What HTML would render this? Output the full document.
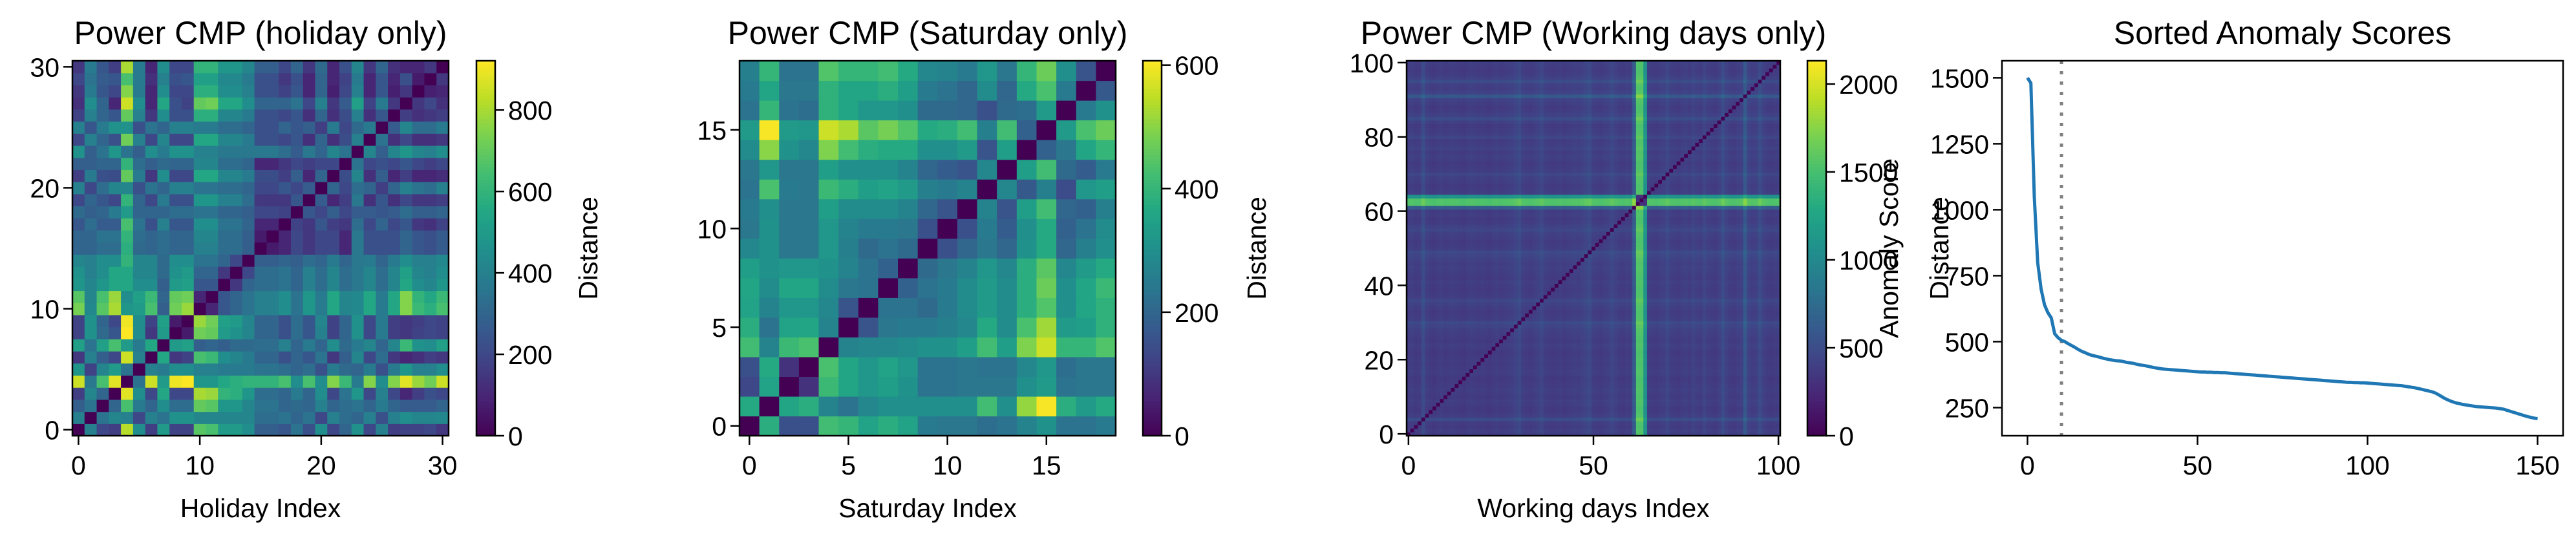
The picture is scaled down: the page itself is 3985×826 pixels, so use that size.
<!DOCTYPE html>
<html><head><meta charset="utf-8">
<style>
html,body{margin:0;padding:0;background:#fff;}
svg{display:block;font-family:"Liberation Sans","DejaVu Sans",sans-serif;}
.t{font-size:41px;fill:#000;}
.ti{font-size:50px;fill:#000;}
</style></head>
<body>
<svg id="fig" width="3985" height="826" viewBox="0 0 3985 826" xmlns="http://www.w3.org/2000/svg"></svg>
<script>
// ---------- Holiday data (rows 0..30, columns 0..30) ----------
const holidayRows = [
[0,400,200,170,820,450,170,500,180,180,680,650,500,500,450,280,280,250,350,230,450,200,300,470,200,400,170,180,180,200,150],
[400,0,350,420,400,200,400,350,470,470,420,420,420,420,420,330,330,350,300,350,200,400,330,300,400,230,400,450,420,420,430],
[280,350,0,300,650,380,300,450,330,330,700,680,480,480,420,350,350,300,320,300,400,300,330,350,300,380,300,270,270,270,300],
[170,420,300,0,880,450,200,550,200,200,800,780,600,580,480,330,330,300,380,300,450,200,350,480,200,400,200,100,170,230,200],
[850,370,650,880,0,350,850,500,900,920,480,480,550,580,600,600,600,650,450,650,450,750,620,380,750,450,750,880,780,720,850],
[480,180,420,500,350,0,400,380,450,450,400,400,380,380,380,350,350,330,300,330,230,380,320,300,380,230,380,480,400,400,450],
[150,400,280,200,850,400,0,550,150,180,650,620,450,420,380,300,300,230,300,250,350,150,280,420,200,330,150,100,130,170,150],
[520,350,520,650,500,380,550,0,500,520,280,300,280,320,320,330,330,400,300,380,300,450,320,380,420,300,420,620,470,450,520],
[180,470,320,250,920,450,150,500,0,70,720,700,500,470,420,300,300,230,330,250,400,180,300,470,200,380,170,150,180,200,180],
[180,470,300,200,900,450,180,520,70,0,780,720,520,500,420,300,300,230,330,250,420,180,300,470,200,380,170,150,170,200,180],
[730,430,680,800,480,500,650,280,720,780,0,100,250,300,350,400,400,450,350,480,380,550,420,430,550,380,550,750,620,580,650],
[680,420,650,780,450,520,620,300,700,720,100,0,250,300,350,400,400,450,350,480,380,550,420,430,550,380,550,750,600,550,620],
[480,420,480,550,550,450,450,280,500,520,250,250,0,150,300,330,330,350,300,400,330,420,330,370,420,330,420,550,450,420,480],
[470,400,450,550,550,420,420,320,470,500,300,300,150,0,200,330,330,350,300,400,330,420,330,370,420,330,420,520,420,400,450],
[420,400,450,450,600,420,420,320,450,450,350,350,300,200,0,280,280,300,280,330,300,380,300,370,380,300,380,450,400,400,430],
[300,300,330,330,580,320,300,330,300,300,400,400,330,330,280,0,70,100,200,150,200,200,100,370,230,230,230,300,250,230,270],
[300,300,350,350,600,330,300,330,300,300,420,420,330,330,280,70,0,100,200,150,200,200,100,370,230,230,230,300,250,230,270],
[250,330,270,270,650,350,230,400,250,250,450,450,350,350,300,100,100,0,180,150,250,170,150,330,200,300,200,250,150,130,180],
[320,280,300,380,500,300,300,300,330,330,350,350,300,300,280,200,200,180,0,250,200,280,200,270,270,250,270,330,280,280,300],
[200,300,250,200,600,300,200,380,230,230,480,480,400,400,330,150,150,150,250,0,270,100,170,370,130,250,130,200,150,150,170],
[400,200,330,420,420,230,350,300,400,400,350,350,330,330,300,200,200,250,200,270,0,300,200,330,300,170,300,400,350,330,400],
[170,380,230,220,700,380,150,450,200,200,550,550,420,420,380,220,220,170,280,100,300,0,220,420,130,280,100,170,100,100,120],
[280,280,300,300,600,330,280,320,300,300,420,420,330,330,300,100,100,150,200,170,200,200,0,350,200,230,200,250,200,170,200],
[470,280,350,480,350,280,450,380,470,470,400,400,370,370,370,370,370,330,270,370,300,420,350,0,420,280,420,480,420,400,450],
[200,400,300,230,720,400,200,420,200,200,550,550,420,420,380,230,230,200,250,130,300,130,220,400,0,350,130,200,130,130,150],
[400,250,380,470,470,230,350,300,400,400,380,380,330,330,300,230,230,300,250,280,170,380,200,320,380,0,270,420,330,330,380],
[180,400,300,250,700,400,150,450,230,230,580,580,420,420,380,230,230,200,250,130,300,130,220,400,130,250,0,170,130,150,170],
[130,450,300,100,850,450,100,550,230,180,700,720,550,550,450,300,300,300,350,200,400,150,270,520,180,380,150,0,150,200,130],
[150,380,250,200,750,380,100,450,200,200,580,580,450,450,400,230,230,180,250,100,300,80,200,400,100,250,80,150,0,80,100],
[200,350,270,250,650,380,130,400,230,250,520,520,430,430,380,230,230,150,230,100,300,100,180,380,100,250,100,230,70,0,150],
[150,380,250,170,800,380,100,450,200,200,600,600,480,480,420,280,280,200,300,150,320,100,230,420,150,300,130,100,100,150,0]
];
const holidayTicks = [0,10,20,30];
const holidayCbTicks = [0,200,400,600,800];

// ---------- Saturday data (rows 0..18) ----------
const saturdayRows = [
[0,380,150,150,420,400,350,380,350,250,240,240,220,230,270,310,230,230,250],
[370,0,360,380,270,230,280,300,300,300,300,300,420,300,510,600,380,330,370],
[130,350,0,90,410,360,320,340,310,230,230,240,240,240,300,330,230,240,240],
[150,370,90,0,430,360,320,350,320,230,230,240,230,230,280,320,220,240,240],
[420,270,410,430,0,270,280,280,290,310,310,340,420,340,490,560,400,400,440],
[380,230,350,360,270,0,160,240,250,250,260,280,370,290,430,520,330,340,390],
[350,270,320,320,280,160,0,230,230,210,250,290,330,290,380,440,300,360,390],
[360,290,360,360,290,240,230,0,190,230,250,290,330,290,380,470,300,360,410],
[340,310,320,320,310,270,230,190,0,210,240,270,320,280,380,450,280,330,370],
[280,310,240,240,320,260,210,230,210,0,150,200,240,200,310,370,200,260,300],
[240,310,240,240,320,270,250,250,240,150,0,150,250,180,300,370,190,230,290],
[250,300,240,240,340,290,290,290,270,200,160,0,270,160,340,420,200,190,260],
[230,430,250,240,410,380,340,350,330,260,250,270,0,280,170,260,140,320,340],
[240,320,240,240,340,300,300,300,270,200,180,160,280,0,340,420,210,180,250],
[290,500,310,280,490,420,380,370,370,300,300,330,160,340,0,190,240,360,400],
[330,600,330,320,560,530,450,480,440,370,380,420,260,420,190,0,330,430,470],
[230,400,230,220,390,360,320,320,300,210,210,200,150,210,220,330,0,250,310],
[250,360,240,240,390,360,360,380,340,250,230,200,290,200,370,430,250,0,170],
[260,400,230,230,440,400,400,420,370,280,270,250,320,240,400,470,300,160,0]
];
const saturdayTicks = [0,5,10,15];
const saturdayCbTicks = [0,200,400,600];

// ---------- Working days: per-index level profile (0..100) ----------
const workLevels = [
190,200,180,190,300,200,180,170,190,200, 180,190,200,190,180,170,190,200,190,180,
190,180,170,190,200,180,190,200,210,240, 280,200,190,180,200,220,260,200,190,180,
190,200,180,190,200,210,200,220,250,280, 200,190,180,200,210,260,220,190,180,200,
190,420,1350,1350,900,200,190,180,200,210, 260,200,190,180,200,210,190,230,200,190,
250,200,190,180,210,300,220,190,180,200, 220,400,230,200,210,300,220,190,180,190,
200
];
const workTicksX = [0,50,100];
const workTicksY = [0,20,40,60,80,100];
const workCbTicks = [0,500,1000,1500,2000];

// ---------- Sorted anomaly scores ----------
const scores = [
1500,1480,1050,800,700,640,610,590,530,515,505,
500,492,485,478,470,463,458,452,448,445,
442,438,435,432,430,428,427,425,422,420,
418,415,412,410,408,405,402,400,398,396,
395,394,393,392,391,390,389,388,387,386,
385,385,384,384,383,383,382,382,381,380,
379,378,377,376,375,374,373,372,371,370,
369,368,367,366,365,364,363,362,361,360,
359,358,357,356,355,354,353,352,351,350,
349,348,347,346,346,345,345,344,344,343,
342,341,340,339,338,337,336,335,334,333,
331,329,327,325,322,319,316,313,310,305,
298,290,283,277,272,268,265,262,260,258,
256,254,253,252,251,250,249,248,246,244,
240,236,232,228,224,220,216,213,210,208
];
const lineTicksX = [0,50,100,150];
const lineTicksY = [250,500,750,1000,1250,1500];
const thresholdIndex = 10;

// ---------- helpers ----------
const NS = "http://www.w3.org/2000/svg";
const svg = document.getElementById('fig');
function mk(tag, attrs, parent){
  const e = document.createElementNS(NS, tag);
  for (const k in attrs) e.setAttribute(k, attrs[k]);
  (parent||svg).appendChild(e);
  return e;
}
const VIR = [[68,1,84],[72,35,116],[64,67,135],[52,94,141],[41,120,142],[32,144,140],[34,167,132],[68,190,112],[121,209,81],[189,222,38],[253,231,37]];
function viridis(t){
  t = Math.max(0, Math.min(1, t));
  const p = t*(VIR.length-1), i = Math.min(Math.floor(p), VIR.length-2), f = p-i;
  const a = VIR[i], b = VIR[i+1];
  return 'rgb('+[0,1,2].map(k=>Math.round(a[k]+(b[k]-a[k])*f)).join(',')+')';
}
function text(x,y,s,cls,anchor,name,rot){
  const e = mk('text',{x:x,y:y,class:cls,'text-anchor':anchor||'middle'});
  if (rot) e.setAttribute('transform','rotate(-90 '+x+' '+y+')');
  e.textContent = s;
  
  
  return e;
}

function heatmap(cfg){
  const g = mk('g',{});
  
  
  const n = cfg.n;
  const sx = v => cfg.x0 + (v+0.5)/n*(cfg.x1-cfg.x0);
  const sy = v => cfg.y1 - (v+0.5)/n*(cfg.y1-cfg.y0);
  const cw = (cfg.x1-cfg.x0)/n, ch = (cfg.y1-cfg.y0)/n;
  for (let r=0;r<n;r++) for (let c=0;c<n;c++){
    const v = cfg.value(r,c);
    const rect = mk('rect',{x:(sx(c)-cw/2).toFixed(2),y:(sy(r)-ch/2).toFixed(2),width:(cw+0.6).toFixed(2),height:(ch+0.6).toFixed(2),fill:viridis(v/cfg.vmax)}, g);
    
    
  }
  mk('rect',{x:cfg.x0,y:cfg.y0,width:cfg.x1-cfg.x0,height:cfg.y1-cfg.y0,fill:'none',stroke:'#000','stroke-width':2.5});
  cfg.ticksX.forEach(t=>{
    const x = sx(t);
    mk('line',{x1:x,y1:cfg.y1,x2:x,y2:cfg.y1+14,stroke:'#000','stroke-width':2.5});
    text(x,cfg.y1+60,String(t),'t','middle','x-tick-label');
  });
  cfg.ticksY.forEach(t=>{
    const y = sy(t);
    mk('line',{x1:cfg.x0-14,y1:y,x2:cfg.x0,y2:y,stroke:'#000','stroke-width':2.5});
    text(cfg.x0-20,y+15,String(t),'t','end','y-tick-label');
  });
  text((cfg.x0+cfg.x1)/2,68,cfg.title,'ti','middle','chart-title');
  text((cfg.x0+cfg.x1)/2,800,cfg.xlabel,'t','middle','x-axis-title');
  // colorbar
  const cb = mk('g',{});
  
  
  const steps = 120, H = cfg.y1-cfg.y0;
  for (let i=0;i<steps;i++){
    const s = mk('rect',{x:cfg.cb0,y:(cfg.y1-(i+1)*H/steps).toFixed(2),width:cfg.cb1-cfg.cb0,height:(H/steps+0.6).toFixed(2),fill:viridis((i+0.5)/steps)}, cb);
    
    
  }
  mk('rect',{x:cfg.cb0,y:cfg.y0,width:cfg.cb1-cfg.cb0,height:H,fill:'none',stroke:'#000','stroke-width':2.5});
  cfg.cbTicks.forEach(t=>{
    const y = cfg.y1 - t/cfg.vmax*H;
    mk('line',{x1:cfg.cb1,y1:y,x2:cfg.cb1+14,y2:y,stroke:'#000','stroke-width':2.5});
    text(cfg.cb1+20,y+15,String(t),'t','start','colorbar-tick-label');
  });
  text(cfg.labelX,(cfg.y0+cfg.y1)/2,cfg.cbLabel,'t','middle','colorbar-label',true);
}

heatmap({name:'holiday-heatmap',n:31,x0:112,x1:694,y0:94,y1:674,vmax:921,
  value:(r,c)=>holidayRows[r][c],ticksX:holidayTicks,ticksY:holidayTicks,cbTicks:holidayCbTicks,
  title:'Power CMP (holiday only)',xlabel:'Holiday Index',cb0:737,cb1:766,labelX:924,cbLabel:'Distance'});

heatmap({name:'saturday-heatmap',n:19,x0:1144,x1:1726,y0:94,y1:674,vmax:607,
  value:(r,c)=>saturdayRows[r][c],ticksX:saturdayTicks,ticksY:saturdayTicks,cbTicks:saturdayCbTicks,
  title:'Power CMP (Saturday only)',xlabel:'Saturday Index',cb0:1768,cb1:1797,labelX:1958,cbLabel:'Distance'});

function workValue(r,c){
  if (r===c) return 0;
  const a = workLevels[r], b = workLevels[c];
  if (a>800 && b>800) return 300;
  return Math.min(2130, a+b);
}
heatmap({name:'working-days-heatmap',n:101,x0:2176,x1:2754,y0:94,y1:674,vmax:2132,
  value:workValue,ticksX:workTicksX,ticksY:workTicksY,cbTicks:workCbTicks,
  title:'Power CMP (Working days only)',xlabel:'Working days Index',cb0:2796,cb1:2825,labelX:2936,cbLabel:'Anomaly Score'});

// ---------- line chart ----------
(function(){
  const X0=3097,X1=3965,Y0=94,Y1=674, xmin=-7.5,xmax=157.5, ymin=143.4,ymax=1564.6;
  const sx = v => X0+(v-xmin)/(xmax-xmin)*(X1-X0);
  const sy = v => Y1-(v-ymin)/(ymax-ymin)*(Y1-Y0);
  lineTicksX.forEach(t=>{
    mk('line',{x1:sx(t),y1:Y1,x2:sx(t),y2:Y1+14,stroke:'#000','stroke-width':2.5});
    text(sx(t),Y1+60,String(t),'t','middle','x-tick-label');
  });
  lineTicksY.forEach(t=>{
    mk('line',{x1:X0-14,y1:sy(t),x2:X0,y2:sy(t),stroke:'#000','stroke-width':2.5});
    text(X0-20,sy(t)+15,String(t),'t','end','y-tick-label');
  });
  const th = mk('line',{x1:sx(thresholdIndex),y1:Y0,x2:sx(thresholdIndex),y2:Y1,stroke:'#808080','stroke-width':5,'stroke-dasharray':'5 11'});
  
  
  const pts = scores.map((v,i)=>sx(i).toFixed(2)+','+sy(v).toFixed(2)).join(' ');
  const pl = mk('polyline',{points:pts,fill:'none',stroke:'#1f77b4','stroke-width':5,'stroke-linejoin':'round'});
  
  
  mk('rect',{x:X0,y:Y0,width:X1-X0,height:Y1-Y0,fill:'none',stroke:'#000','stroke-width':2.5});
  text((X0+X1)/2,68,'Sorted Anomaly Scores','ti','middle','chart-title');
  text(3014,(Y0+Y1)/2,'Distance','t','middle','y-axis-title',true);
})();
</script>
</body></html>
